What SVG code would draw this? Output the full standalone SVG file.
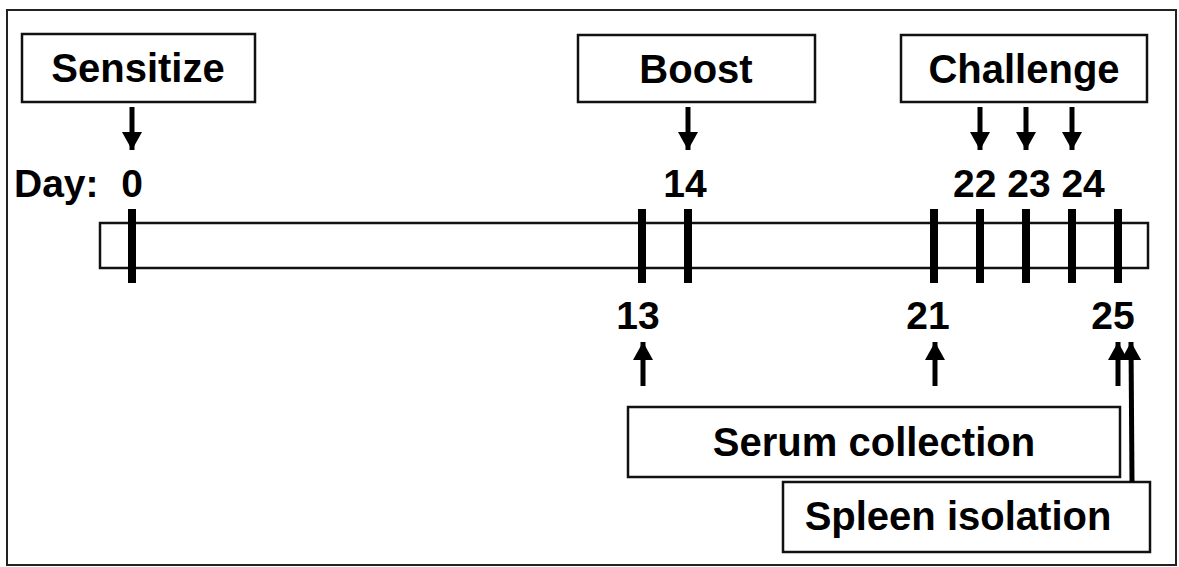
<svg xmlns="http://www.w3.org/2000/svg" width="1179" height="567" viewBox="0 0 1179 567">
<defs>
<style>
.box{fill:#fff;stroke:#111;stroke-width:2.5}
.lbl{font-family:"Liberation Sans",Arial,sans-serif;font-weight:bold;font-size:40px;fill:#000;text-anchor:middle}
.day{font-family:"Liberation Sans",Arial,sans-serif;font-weight:bold;font-size:39px;fill:#000}
.tick{stroke:#000;stroke-width:8;stroke-linecap:butt}
.arr{stroke:#000;stroke-width:5;fill:none;marker-end:url(#ah)}
</style>
<marker id="ah" markerUnits="userSpaceOnUse" markerWidth="20" markerHeight="20" viewBox="0 0 20 20" refX="18" refY="10" orient="auto">
<path d="M0,0 L18,10 L0,20 Z" fill="#000"/>
</marker>
</defs>
<rect x="0" y="0" width="1179" height="567" fill="#fff"/>
<rect x="7" y="10" width="1169" height="555" fill="none" stroke="#222" stroke-width="2"/>

<g id="sensitize">
<rect class="box" x="22" y="34" width="233" height="68"/>
<text class="lbl" x="138" y="82">Sensitize</text>
</g>
<g id="boost">
<rect class="box" x="578" y="35" width="237" height="67"/>
<text class="lbl" x="696" y="83">Boost</text>
</g>
<g id="challenge">
<rect class="box" x="901" y="35" width="246" height="67"/>
<text class="lbl" x="1024" y="83">Challenge</text>
</g>

<g id="timeline">
<rect class="box" x="100" y="223" width="1048" height="45"/>
<text class="day" x="14" y="197">Day:</text>
<text class="day" x="132" y="197" text-anchor="middle">0</text>
<text class="day" x="685" y="197" text-anchor="middle">14</text>
<text class="day" x="953" y="197">22 23 24</text>
<text class="day" x="638" y="329" text-anchor="middle">13</text>
<text class="day" x="928" y="329" text-anchor="middle">21</text>
<text class="day" x="1113" y="329" text-anchor="middle">25</text>
<line class="tick" x1="132" y1="209" x2="132" y2="283"/>
<line class="tick" x1="642" y1="209" x2="642" y2="283"/>
<line class="tick" x1="688" y1="209" x2="688" y2="283"/>
<line class="tick" x1="934" y1="209" x2="934" y2="283"/>
<line class="tick" x1="980" y1="209" x2="980" y2="283"/>
<line class="tick" x1="1026" y1="209" x2="1026" y2="283"/>
<line class="tick" x1="1072" y1="209" x2="1072" y2="283"/>
<line class="tick" x1="1118" y1="209" x2="1118" y2="283"/>
</g>

<g id="serum">
<rect class="box" x="628" y="407" width="492" height="70"/>
<text class="lbl" x="874" y="456">Serum collection</text>
</g>
<g id="spleen">
<rect class="box" x="783" y="482" width="367" height="70"/>
<text class="lbl" x="958" y="530">Spleen isolation</text>
</g>

<g id="connectors">
<line class="arr" x1="132" y1="107" x2="132" y2="150"/>
<line class="arr" x1="688" y1="107" x2="688" y2="150"/>
<line class="arr" x1="980" y1="107" x2="980" y2="150"/>
<line class="arr" x1="1026" y1="107" x2="1026" y2="150"/>
<line class="arr" x1="1072" y1="107" x2="1072" y2="150"/>
<line class="arr" x1="643" y1="386" x2="643" y2="342"/>
<line class="arr" x1="935" y1="386" x2="935" y2="342"/>
<line class="arr" x1="1118" y1="386" x2="1118" y2="342"/>
<line class="arr" x1="1132" y1="482" x2="1131" y2="342"/>
</g>
</svg>
